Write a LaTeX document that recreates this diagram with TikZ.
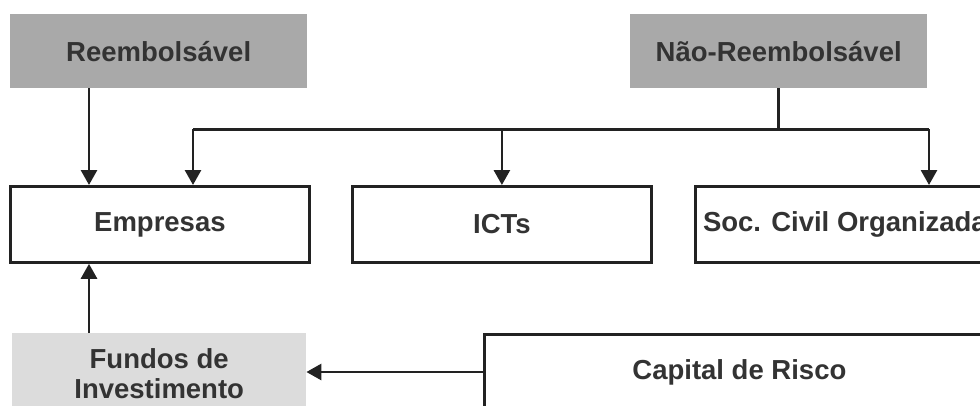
\documentclass[tikz,border=0pt]{standalone}
\usepackage{fontspec}
\setmainfont{Liberation Sans}
\usetikzlibrary{arrows.meta,calc}
\definecolor{topgray}{HTML}{A9A9A9}
\definecolor{fundgray}{HTML}{DCDCDC}
\definecolor{txtgray}{HTML}{333333}
\definecolor{linegray}{HTML}{222222}
\begin{document}
\begin{tikzpicture}[x=1pt,y=-1pt,
  lbl/.style={font=\fontsize{27.5}{30}\selectfont\bfseries,text=txtgray,align=center},
  outlined/.style={lbl,draw=linegray,line width=2.8pt,fill=white,minimum width=299pt,minimum height=76pt,anchor=north west,inner sep=0pt},
  shaded/.style={lbl,fill=topgray,minimum width=297pt,minimum height=74pt,anchor=north west,inner sep=0pt},
  arr/.style={draw=linegray,line width=2.8pt,-{Triangle[length=15pt,width=16pt]}},
  wire/.style={draw=linegray,line width=2.8pt}]
\useasboundingbox (0,0) rectangle (980,405);
\fill[white] (0,0) rectangle (980,405);
\clip (0,0) rectangle (980,405);

% funding sources
\node[shaded] (reemb) at (10,14) {Reembolsável};
\node[shaded] (naoreemb) at (630,14) {Não-Reembolsável};

% beneficiaries
\node[outlined] (emp) at (9,185) {Empresas};
\node[outlined] (icts) at (351,185) {ICTs};
\node[outlined] (soc) at (694,185) {Soc. Civil Organizada};

% investment vehicles
\node[shaded,fill=fundgray,minimum width=294pt,minimum height=80pt] (fundos) at (12,333) {Fundos de\\Investimento};
\node[outlined,minimum width=510pt,minimum height=76pt] (capital) at (483,333) {Capital de Risco};

% columns and rows used by the connectors
\coordinate (colA) at (89,0);
\coordinate (colB) at (193,0);
\coordinate (colC) at (929,0);
\coordinate (rowF) at (0,372);

% distribution bus below the non-refundable source
\coordinate (bus) at ($(naoreemb.south)+(0,41)$);
\draw[wire] (naoreemb.south) -- (bus);
\draw[wire] (bus -| colB) -- (bus -| colC);
\draw[arr] (bus -| colB) -- (emp.north -| colB);
\draw[arr] (bus -| icts.north) -- (icts.north);
\draw[arr] (bus -| colC) -- (soc.north -| colC);

% refundable source and investment flows
\draw[arr] (reemb.south -| colA) -- (emp.north -| colA);
\draw[arr] (fundos.north -| colA) -- (emp.south -| colA);
\draw[arr] (capital.west |- rowF) -- (fundos.east |- rowF);
\end{tikzpicture}
\end{document}
